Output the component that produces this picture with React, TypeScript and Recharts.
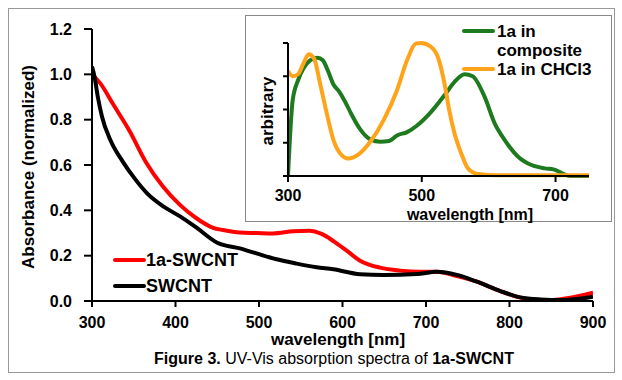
import { Line, LineChart, XAxis, YAxis } from 'recharts';

// main spectra (wavelength nm / normalized absorbance)
const swcntDopedWl = [300, 310, 325, 345, 365, 385, 405, 425, 445, 457, 477, 497, 517, 541, 560, 575, 590, 605, 621, 645, 669, 693, 713, 737, 761, 785, 809, 829, 849, 869, 900];
const swcntDopedAbs = [1.0, 0.96, 0.87, 0.75, 0.61, 0.505, 0.425, 0.365, 0.323, 0.313, 0.302, 0.3, 0.298, 0.308, 0.31, 0.296, 0.262, 0.222, 0.178, 0.147, 0.134, 0.129, 0.129, 0.11, 0.085, 0.049, 0.019, 0.005, 0.004, 0.012, 0.037];

const swcntWl = [300, 303, 307, 312, 322, 337, 351, 366, 386, 406, 426, 450, 477, 497, 521, 545, 569, 589, 621, 649, 689, 713, 737, 761, 789, 813, 837, 864, 888, 900];
const swcntAbs = [1.034, 0.99, 0.9, 0.813, 0.71, 0.614, 0.541, 0.475, 0.416, 0.372, 0.321, 0.257, 0.232, 0.21, 0.184, 0.165, 0.149, 0.14, 0.118, 0.115, 0.119, 0.129, 0.115, 0.085, 0.044, 0.016, 0.007, 0.004, 0.012, 0.019];

// inset spectra (arbitrary units)
const compositeWl = [300, 307, 315, 323, 333, 344, 352, 360, 368, 376, 385, 395, 408, 423, 438, 451, 463, 478, 493, 514, 534, 549, 564, 576, 594, 609, 624, 644, 664, 684, 697, 710, 722, 750];
const compositeAbs = [0, 2.28, 2.88, 3.23, 3.48, 3.56, 3.48, 3.15, 2.75, 2.55, 2.25, 1.85, 1.4, 1.1, 1.03, 1.05, 1.22, 1.32, 1.52, 1.93, 2.43, 2.83, 3.06, 3.0, 2.38, 1.58, 1.08, 0.58, 0.33, 0.23, 0.2, 0.08, 0, 0];

const chcl3Wl = [300, 307, 315, 323, 331, 339, 348, 358, 368, 378, 390, 406, 423, 443, 463, 478, 491, 499, 514, 524, 534, 541, 549, 559, 569, 584, 614, 750];
const chcl3Abs = [3.16, 3.0, 3.06, 3.38, 3.66, 3.53, 2.78, 1.88, 1.08, 0.68, 0.53, 0.66, 1.03, 1.68, 2.58, 3.48, 3.98, 4.0, 3.88, 3.58, 2.78, 1.98, 1.28, 0.68, 0.23, 0.06, 0.02, 0.02];

const mainTicksX = [300, 400, 500, 600, 700, 800, 900];
const mainTicksY = [0, 0.2, 0.4, 0.6, 0.8, 1.0, 1.2];
const insetTicksX = [300, 500, 700];
const insetTicksY = [0, 1, 2, 3, 4];

const toPoints = (wl: number[], v: number[]) => wl.map((w, i) => ({ w, v: v[i] }));

const FONT = '"Liberation Sans", Arial, sans-serif';
const tickStyle = { fill: '#000', fontSize: 16, fontWeight: 'bold', fontFamily: FONT };
const axisLine = { stroke: '#000', strokeWidth: 2 };

const mainSeries = [
  { name: '1a-SWCNT', color: '#ff0000', data: toPoints(swcntDopedWl, swcntDopedAbs), legendY: 260 },
  { name: 'SWCNT', color: '#000000', data: toPoints(swcntWl, swcntAbs), legendY: 286 },
];
const insetSeries = [
  { name: 'composite', color: '#1e7a1e', data: toPoints(compositeWl, compositeAbs) },
  { name: 'chcl3', color: '#ffa31a', data: toPoints(chcl3Wl, chcl3Abs) },
];

const abs = (left: number, top: number, extra: React.CSSProperties = {}): React.CSSProperties => ({
  position: 'absolute', left, top, fontFamily: FONT, fontWeight: 'bold', whiteSpace: 'nowrap', color: '#000', ...extra,
});

const Swatch = ({ x, y, color }: { x: number; y: number; color: string }) => (
  <div style={{ position: 'absolute', left: x, top: y - 2, width: 33, height: 4, borderRadius: 2, background: color }} />
);

export default function App() {
  return (
    <div style={{ position: 'relative', width: 622, height: 380, background: '#fff', overflow: 'hidden' }}>
      <style>{'body{margin:0}'}</style>
      <div style={{ position: 'absolute', left: 8, top: 8, width: 605, height: 363, border: '1px solid #999' }} />

      <div style={{ position: 'absolute', left: 0, top: 0 }}>
        <LineChart width={622} height={380} margin={{ top: 29, right: 29, left: 32, bottom: 49 }}>
          <XAxis type="number" dataKey="w" domain={[300, 900]} ticks={mainTicksX} allowDataOverflow
            height={30} tickSize={6} tickMargin={10} tick={tickStyle} axisLine={axisLine} tickLine={axisLine} />
          <YAxis type="number" domain={[0, 1.2]} ticks={mainTicksY} width={60} tickSize={8} tickMargin={12}
            tickFormatter={(v: number) => v.toFixed(1)} tick={tickStyle} axisLine={axisLine} tickLine={axisLine} />
          {mainSeries.map((s) => (
            <Line key={s.name} data={s.data} dataKey="v" type="monotone" stroke={s.color} strokeWidth={4}
              dot={false} isAnimationActive={false} />
          ))}
        </LineChart>
      </div>

      <div style={abs(29, 167, { fontSize: 17, transform: 'translate(-50%, -50%) rotate(-90deg)' })}>Absorbance (normalized)</div>
      <div style={abs(338, 340, { fontSize: 17, transform: 'translate(-50%, -50%)' })}>wavelength [nm]</div>

      {mainSeries.map((s) => (
        <div key={s.name}>
          <Swatch x={113} y={s.legendY} color={s.color} />
          <div style={abs(146, s.legendY, { fontSize: 18, transform: 'translateY(-50%)' })}>{s.name}</div>
        </div>
      ))}

      {/* inset */}
      <div style={{ position: 'absolute', left: 245, top: 15, width: 367, height: 207, boxSizing: 'border-box', border: '1px solid #888', background: '#fff' }}>
        <LineChart width={365} height={205} margin={{ top: 27, right: 22, left: 32, bottom: 15 }}>
          <XAxis type="number" dataKey="w" domain={[300, 750]} ticks={insetTicksX} allowDataOverflow
            height={30} tickSize={6} tickMargin={8} tick={tickStyle} axisLine={axisLine} tickLine={axisLine} />
          <YAxis type="number" domain={[0, 4]} ticks={insetTicksY} width={10} tickSize={5}
            tickFormatter={() => ''} axisLine={axisLine} tickLine={axisLine} />
          {insetSeries.map((s) => (
            <Line key={s.name} data={s.data} dataKey="v" type="monotone" stroke={s.color} strokeWidth={4}
              dot={false} isAnimationActive={false} />
          ))}
        </LineChart>
      </div>

      <div style={abs(268, 111, { fontSize: 17, transform: 'translate(-50%, -50%) rotate(-90deg)' })}>arbitrary</div>
      <div style={abs(470, 215, { fontSize: 16, lineHeight: '16px', transform: 'translate(-50%, -50%)' })}>wavelength [nm]</div>

      <Swatch x={462} y={31} color={insetSeries[0].color} />
      <div style={abs(497, 31, { fontSize: 17, lineHeight: '17px', transform: 'translateY(-50%)' })}>1a in</div>
      <div style={abs(497, 50, { fontSize: 17, lineHeight: '17px', transform: 'translateY(-50%)' })}>composite</div>
      <Swatch x={462} y={69} color={insetSeries[1].color} />
      <div style={abs(497, 69, { fontSize: 17, lineHeight: '17px', transform: 'translateY(-50%)' })}>1a in CHCl3</div>

      <div style={abs(334, 359, { fontSize: 16, fontWeight: 'normal', transform: 'translate(-50%, -50%)' })}>
        <b>Figure 3.</b> UV-Vis absorption spectra of <b>1a-SWCNT</b>
      </div>
    </div>
  );
}
